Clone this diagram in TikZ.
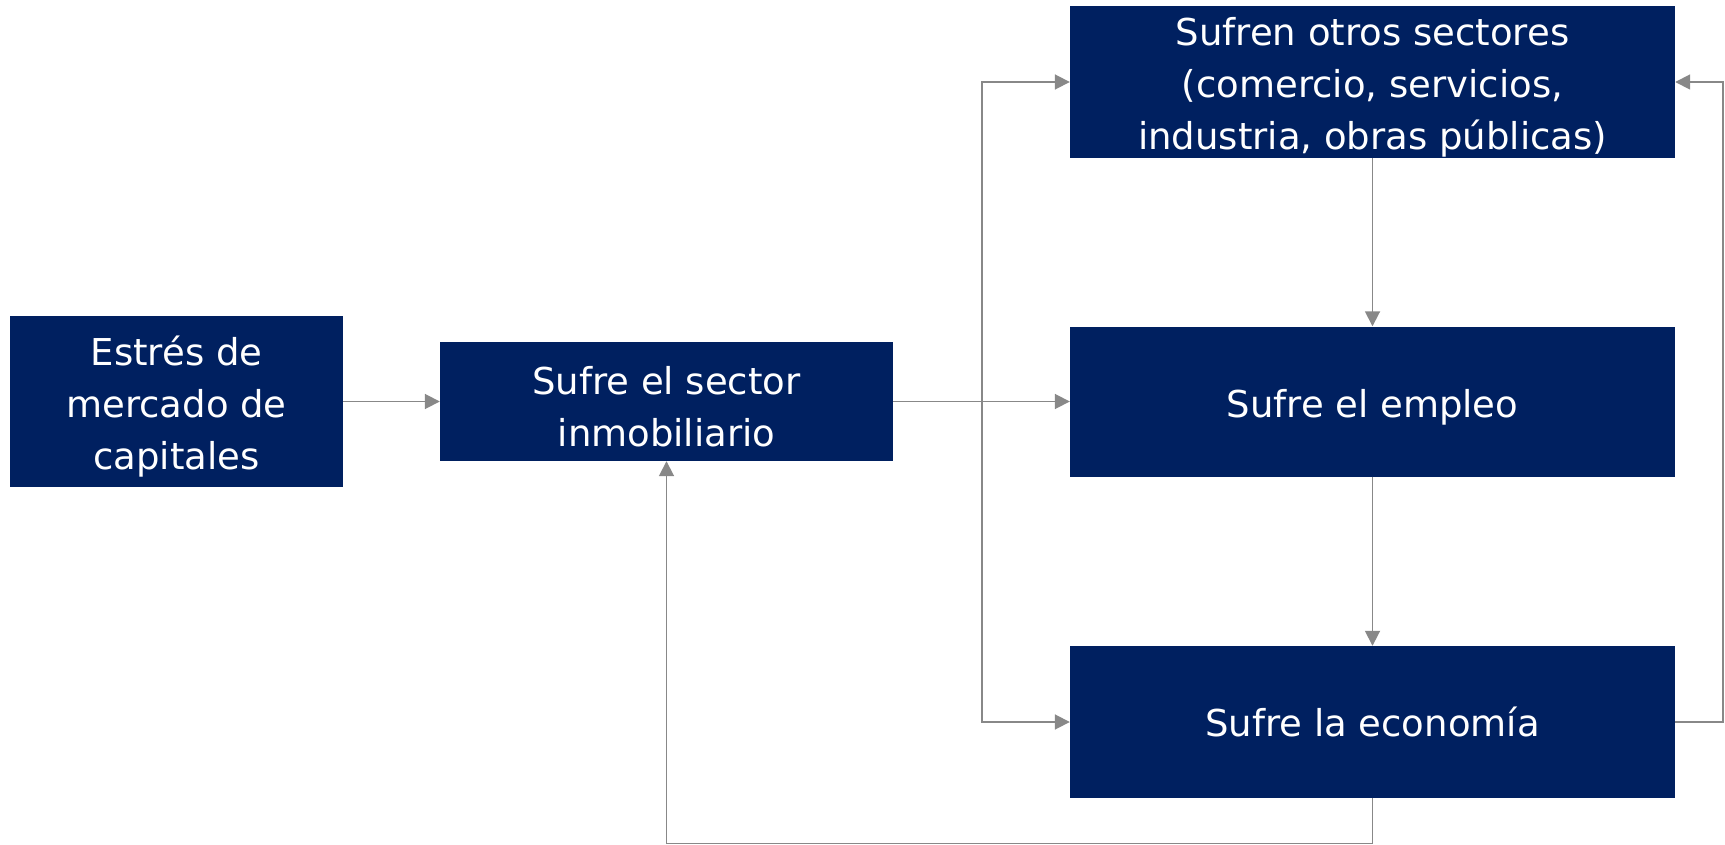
\documentclass[tikz,border=0pt]{standalone}
\usepackage{fontspec}
\setmainfont{DejaVu Sans}
\usetikzlibrary{arrows.meta}
\definecolor{navy}{RGB}{0,32,96}
\definecolor{conn}{RGB}{136,136,136}
\tikzset{
  box/.style={rectangle, fill=navy, inner sep=0pt},
  txt/.style={text=white, align=center, inner sep=0pt,
    font=\fontsize{37}{52}\selectfont},
  arr/.style={draw=conn, line width=1.8pt, -{Triangle[length=15pt,width=15pt]}}
}
\newcommand{\boxtext}[3][-5.5pt]{\node[txt] (#2t) at ([yshift=#1]#2.center) {#3};}
\begin{document}
\begin{tikzpicture}[x=1pt,y=-1pt]
\useasboundingbox (0,0) rectangle (1725,845);
\node[box, minimum width=333pt, minimum height=171pt] (A) at (176.5,401.5) {};
\node[box, minimum width=453pt, minimum height=119pt] (B) at (666.5,401.5) {};
\node[box, minimum width=605pt, minimum height=152pt] (C) at (1372.5,82) {};
\node[box, minimum width=605pt, minimum height=150pt] (D) at (1372.5,401.5) {};
\node[box, minimum width=605pt, minimum height=152pt] (E) at (1372.5,722) {};
\boxtext{A}{Estrés de\\mercado de\\capitales}
\boxtext{B}{Sufre el sector\\inmobiliario}
\boxtext{C}{Sufren otros sectores\\(comercio, servicios,\\industria, obras públicas)}
\boxtext{D}{Sufre el empleo}
\boxtext[0pt]{E}{Sufre la economía}
\coordinate (br) at (982,401.5);
\coordinate (rt) at (1723,722);
\coordinate (bt) at (1372.5,843.5);
\draw[arr] (A.east) -- (B.west);
\draw[arr] (B.east) -- (D.west);
\draw[arr] (br) |- (C.west);
\draw[arr] (br) |- (E.west);
\draw[arr] (C.south) -- (D.north);
\draw[arr] (D.south) -- (E.north);
\draw[arr] (E.east) -- (rt) |- (C.east);
\draw[arr] (E.south) -- (bt) -| (B.south);
\end{tikzpicture}
\end{document}
